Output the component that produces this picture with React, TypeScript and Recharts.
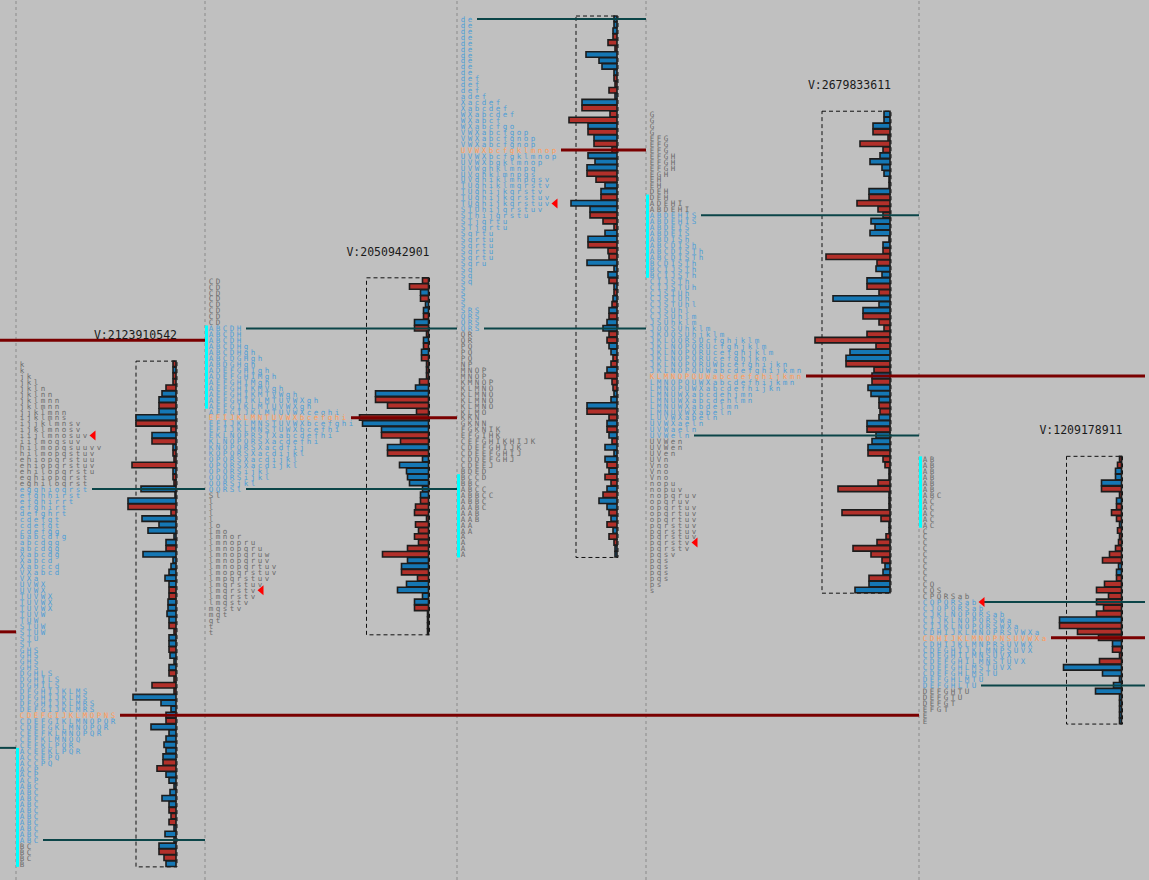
import { ComposedChart, Bar, Cell, Scatter, XAxis, YAxis, ReferenceLine, ReferenceArea } from "recharts"

const W = 1149
const H = 880

// price ladder, one tick per row
const TOP_PRICE = 4144
const ROW_PX = 5.95
const TOP_ROW_PX = 19
const PRICE_MAX = TOP_PRICE + TOP_ROW_PX / ROW_PX
const PRICE_MIN = PRICE_MAX - H / ROW_PX

// layout of the five sessions
const SEP_X = [16, 205, 457, 646, 919]
const BASE_X = [176, 428.5, 617, 890, 1121.5]
const COL_W = 7
const RIGHT_END = 1145

const RED = "#b2302a"
const BLUE = "#1577b4"
const POC_LINE = "#7a0000"
const VA_LINE = "#0b4548"
const TONE: Record<string, string> = { out: "#6c6c6c", va: "#4f9ed6", poc: "#ff9b5a" }

// session stats (prices)
const sessionTop = [4086, 4100, 4144, 4128, 4070]
const sessionPoc = [4027, 4077, 4122, 4084, 4040]
const sessionVah = [4065, 4092, 4144, 4111, 4046]
const sessionVal = [4006, 4065, 4092, 4074, 4032]
const sessionClose = [4074, 4048, 4113, 4056, 4046]
const ibHigh = [4021, 4092, 4067, 4114, 4070]
const ibLow = [4002, 4079, 4054, 4101, 4059]
const totalVolume = ["2123910542", "2050942901", "", "2679833611", "1209178911"]
const boxVolume = [40, 62, 41, 68, 55]
// separator index each poc / vah / val line runs to (5 = right edge)
const lineUntil = [
  [4, 1, 1],
  [2, 2, 2],
  [3, 3, 3],
  [5, 4, 4],
  [5, 5, 5],
]
// levels left over from earlier sessions
const olderLevels = [
  { price: 4090, kind: "poc", until: 1 },
  { price: 4041, kind: "poc", until: 0 },
  { price: 4021.5, kind: "va", until: 0 },
]

// volume per price row, top to bottom; side: r = sell dominant, b = buy dominant
const s1Vol = [
  3, 3, 3, 3, 10, 14, 17, 17, 17, 40, 40, 5, 24, 24, 3, 3, 2, 44, 3, 3, 2, 35, 1, 48, 48, 5, 34, 17, 28, 2, 10, 10, 33, 3,
  5, 7, 11, 7, 7, 7, 8, 8, 9, 7, 7, 2, 7, 7, 7, 6, 2, 7, 7, 2, 24, 2, 43, 15, 5, 10, 10, 25, 7, 10, 12, 10, 13, 13, 19, 10,
  7, 2, 6, 14, 7, 7, 5, 7, 2, 11, 2, 17, 17, 12, 10,
]
const s1Side = "rbrrrbbrbbrrbrbrrrbrrbbbrrbbbbbrbbbbbbrrb" + "bbbrrbbrbbbrrrrbbbbrbbbbbbrrbbbbbbrrrbbbbrrb"
const s2Vol = [
  6, 19, 8, 8, 3, 5, 5, 14, 14, 2, 5, 5, 7, 7, 2, 2, 2, 9, 13, 53, 53, 41, 12, 69, 66, 47, 47, 28, 41, 41, 6, 29, 22, 21, 19,
  6, 8, 8, 13, 14, 2, 13, 10, 14, 10, 21, 46, 21, 27, 27, 11, 22, 31, 6, 14, 14, 1, 1, 1, 1,
]
const s2Side = "rrbrbbrbrrbrbrrrrrbbrrrrbbrrbrbbbbbbbrrrrrrrrrrbbrrbbbbrrbbb"
const s3Vol = [
  3, 3, 4, 4, 9, 2, 31, 18, 15, 3, 3, 2, 8, 2, 35, 35, 7, 48, 29, 29, 23, 23, 5, 29, 22, 30, 30, 21, 12, 16, 16, 46, 27, 27,
  14, 3, 12, 29, 29, 9, 8, 30, 3, 9, 8, 3, 3, 4, 5, 8, 8, 10, 14, 8, 10, 8, 6, 4, 6, 10, 12, 5, 4, 3, 6, 30, 30, 8, 10, 10,
  8, 5, 12, 3, 12, 10, 8, 12, 6, 10, 14, 18, 10, 8, 6, 10, 4, 8, 3, 2, 2,
]
const s3Side = "bbbrrrbbbbrrrbbrrrbrbrrbbbrrbbrbbrrrbbrrrbbb" + "rbrbrbrbbrrbbrrbrrrbbbrrbrbrbbbrbrrbrbbrbrbrrbb"
const s4Vol = [
  6, 6, 17, 17, 2, 30, 7, 10, 20, 8, 6, 1, 1, 21, 21, 33, 12, 7, 19, 15, 20, 1, 7, 7, 64, 13, 14, 8, 23, 23, 11, 57, 11, 27,
  27, 11, 6, 23, 75, 14, 40, 44, 44, 16, 18, 18, 22, 19, 11, 11, 10, 11, 23, 23, 14, 18, 22, 22, 7, 5, 1, 1, 12, 52, 1, 1, 1,
  48, 9, 1, 1, 4, 13, 37, 19, 8, 5, 7, 21, 21, 35,
]
const s4Side = "bbbrrrrbbbbbbbrrrrbbbbbrrrbbbrrbbbrrrrrrbbrrbrbbbrrbbrbbbrrrrrrrrrrrrrrrrrrrbbrb"
const s5Vol = [
  2, 4, 6, 6, 20, 20, 2, 5, 5, 10, 5, 2, 4, 2, 3, 6, 12, 19, 3, 5, 5, 17, 25, 13, 25, 18, 25, 62, 62, 44, 23, 9, 9, 2, 22,
  58, 19, 2, 8, 26, 2, 2, 2, 2, 2,
]
const s5Side = "rrbbbrrbrrrbrrrrrrbbrrrrrrrbrrrbrrrbbbbbbbbbb"

// TPO letters per price row, top to bottom
const s1Tpo = [
  "k", "k", "jk", "jkl", "jkln", "jklnn", "jklmnn", "jklmnn", "jjklmnn", "ijklmns", "ijjklmnsv", "ijklmnosv", "iijlmnosuv",
  "iilmoqsuv", "hilmopqsuuvv", "hilmopqstuv", "ehiopqrstuu", "ehiopqrstuv", "ehilopqrstu", "eghiopqrst", "eghiloqrst",
  "egghioqrst", "efghhirst", "efghirrt", "efghirt", "defghrt", "cdefgt", "cdefgt", "cdefgg", "babcdfg", "abcdgg", "abcdgg",
  "Xabcdg", "Xabcd", "Xabccd", "VXabcd", "VXa", "UVWX", "UVWX", "TUVWX", "TUVWX", "TUVWX", "TUVW", "TUW", "STUW", "STUW",
  "STU", "ST", "GHS", "GHS", "GHS", "GHS", "DGHLS", "DGHILS", "DGHILS", "DFGHIJKLMS", "DFGHIJKLMS", "DFGHIJKLMRS",
  "DEFGIJKLMRS", "CDEFGIJKLMOPNS", "CDEFGIKLMNOPQR", "CDEFGKLMNOPQR", "CEEFKLMNOPQR", "CEFKLMNOQ", "CEFKLPQR",
  "ACEEKLPQR", "ACCEPQ", "ACCPQ", "ACP", "ACP", "ACP", "ABC", "ABC", "ABC", "ABC", "ABC", "ABC", "ABC", "ABC", "ABC", "ABC",
  "BC", "BC", "BC", "B",
]
const s2Tpo = [
  "CD", "CD", "CD", "CD", "CD", "CD", "CD", "CD", "ABCDH", "ABCDH", "ABCDH", "ABCDHg", "ABCDHgh", "ABCDGHgh", "ABDGHgh",
  "ADEFGHIgh", "ADEFGHIMgh", "AEFGHIMgh", "AEFGHIKMVgh", "AEFGHIKMTVWgh", "AEFGHIKLMTUVWXgh", "AEFGIKLMTUVWXgh",
  "AEFGIJKLMTUVWXceghi", "EFIJKLMNTUVWXbcefghi", "EFIJKLMNSTUVWXbcefghi", "EFIJKLMNSTUWXbcefhi", "EKLNOPRSTXabcdefhi",
  "KLNOPQRSXacdefhi", "KNOPQRSXacdfij", "KOPQRSXacdijkl", "OPQRSXacdijkl", "OPQRSXacdijkl", "OPQRSijkl", "OOQRSijkl",
  "OORSjkl", "OQRSl", "Sl", "l", "l", "l", "l", "lo", "lmo", "lmnor", "lmnopru", "lmnopqru", "lmnopqruw", "lmnopqruv",
  "lmnopqrtuv", "lmopqrstuv", "lmpqrstuv", "lmqrstuv", "lmqrstv", "lmqrstv", "lmqstv", "mqstv", "mqt", "qt", "t", "t",
]
const s3Tpo = [
  "de", "de", "de", "de", "de", "de", "de", "de", "de", "de", "def", "def", "def", "adef", "Xacdef", "Xabcdef", "WXabcdef",
  "WXabcf", "WXabcfgo", "VWXabcfgop", "VWXabcfgnop", "VWXabcfgnop", "UVWXbcfgklmnop", "UVWXbcfgklmnop", "UVWXbgklmnop",
  "UVWghklmnpq", "UVghklmnpqs", "UVghiklmnpqsv", "TUghiklmqrstv", "TUghijkqrstv", "TUghijkqrstuv", "TUghijkqrstuv",
  "STUhijqrstuv", "SThijqrstu", "STjqrtu", "STjqrtu", "Sqrtu", "Sqrtu", "Sqrtu", "Sqrtu", "Sqrtu", "Sqru", "Sq", "Sq", "Sq",
  "S", "S", "S", "S", "SRS", "QRS", "QRS", "QRS", "QR", "QR", "PQ", "PQ", "PQ", "NP", "MNOP", "MNOP", "KMNOP", "KLMNO",
  "KLMNO", "KLMNO", "KLMNO", "KLMO", "KKN", "GKNN", "FGKNIK", "EFGIHK", "CEFGHIKHIJK", "CDEFGHIJK", "CDEEFGHIJ", "CDDEFGHJ",
  "CDEEJ", "BDED", "BCCD", "BBC", "ABCC", "ABBCC", "ABBC", "AABC", "AAB", "AAB", "AA", "AA", "A", "A", "A", "A",
]
const s4Tpo = [
  "G", "G", "G", "G", "EFG", "EFG", "EFG", "EFGH", "EFGH", "EFGH", "EGH", "EH", "EH", "DEH", "DEH", "ADEHI", "ABDEHI",
  "ABDEHIS", "ABDEHIS", "ABDEIS", "ABDEIS", "ABDISh", "ABCDISh", "ABCDISTh", "ABCDISTh", "BCDISTh", "BCIJSTh", "BCIJSTh",
  "CIJSTh", "CIJSTUh", "CJSTUh", "CJSTUh", "CJSTUhl", "CJSUhl", "CJSUhlm", "JSUhklm", "JOQSUhklm", "JKOQSUhjklm",
  "JKLOQRSUcfghjklm", "JKLNOPQRUcfghjklm", "JKLNOPQRUcefghjklm", "JKLNOPQRUcefghjkn", "JKLNOPQRUWbcefghijkn",
  "JKLNOPQUWabcdefghijkmn", "KLMNOPQUWabcdefghijkmn", "LMNOPQUWXabcdefhijkmn", "LMNOPUWXabcdefhijkn", "LMNUWXabcdehjmn",
  "LMNUWXabcdehlmn", "LMNUWXabdelmn", "LMNUVWXabeln", "LUVWXabeln", "UVWXaeln", "UVWaeln", "UVWeln", "UVWen", "UVWen",
  "UVen", "UVn", "Vno", "Vno", "Vno", "nopu", "nopuv", "nopqruv", "opqruv", "opqrtuv", "opqrtuv", "opqrtuv", "pqrstuv",
  "pqrstuv", "pqrstuv", "pqrstv", "pqrstv", "pqsv", "pqs", "pqs", "pqs", "pqs", "ps", "s",
]
const s5Tpo = [
  "AB", "AB", "AB", "AB", "AB", "AB", "ABC", "AC", "AC", "AC", "AC", "AC", "C", "C", "C", "C", "C", "C", "C", "C", "C", "CQ",
  "CQS", "CPQRSab", "COPQRSab", "CJOPQRSab", "CJKLNOPQRSab", "CIJKLNOPQRSWa", "CIJKLNOPQRSWXa", "CDHIJKLMNOPRSVWXa",
  "CDHIJKLMNOPNSUVWXa", "CDHIJKLMNPRSUVWX", "CDEGHIJKLMNPSUVX", "CDEGHILMNSUVX", "CDEFGHILMNSTUVX", "CDEFGHLMSTUVX",
  "CDEFGHLMSTU", "DEFGHLMTU", "DEFGHLTU", "DEFGHTU", "DEFGTU", "DEFGT", "EFGT", "E", "E",
]

const sessions = [
  { vol: s1Vol, side: s1Side, tpo: s1Tpo },
  { vol: s2Vol, side: s2Side, tpo: s2Tpo },
  { vol: s3Vol, side: s3Side, tpo: s3Tpo },
  { vol: s4Vol, side: s4Side, tpo: s4Tpo },
  { vol: s5Vol, side: s5Side, tpo: s5Tpo },
].map((s, i) => ({
  ...s,
  top: sessionTop[i],
  poc: sessionPoc[i],
  vah: sessionVah[i],
  val: sessionVal[i],
}))

// one row per price level, volumes of every session side by side
const levels: any[] = []
for (let p = TOP_PRICE; p >= 4000; p--) {
  const row: any = { price: p }
  sessions.forEach((s, i) => {
    const j = s.top - p
    if (j >= 0 && j < s.vol.length) {
      row[`v${i}`] = s.vol[j]
      row[`c${i}`] = s.side[j]
    }
  })
  levels.push(row)
}

const letterX = (i: number, col: number) => SEP_X[i] + 6 + col * COL_W
const rowEndX = (i: number, price: number) => {
  const row = sessions[i].tpo[sessions[i].top - price] || "x"
  return letterX(i, row.length - 1)
}
const untilX = (u: number) => (u < 5 ? SEP_X[u] : RIGHT_END)

const letters = sessions.flatMap((s, i) =>
  s.tpo.flatMap((row, j) => {
    const price = s.top - j
    const tone = price === s.poc ? "poc" : price <= s.vah && price >= s.val ? "va" : "out"
    return row.split("").map((ch, c) => ({ x: letterX(i, c), price, ch, tone }))
  })
)

const levelLines = [
  ...olderLevels.map((l) => ({ ...l, x1: 0, x2: untilX(l.until) })),
  ...sessions.flatMap((s, i) =>
    [
      { price: s.poc, kind: "poc" },
      { price: s.vah, kind: "va" },
      { price: s.val, kind: "va" },
    ].map((l, k) => ({ ...l, x1: rowEndX(i, l.price) + 7, x2: untilX(lineUntil[i][k]) }))
  ),
]

const closeMarks = sessionClose.map((price, i) => ({ x: rowEndX(i, price) + 7.5, price }))
const volumeLabels = totalVolume
  .map((v, i) => ({ x: BASE_X[i] + 1, price: sessionTop[i], text: v ? `V:${v}` : "" }))
  .filter((d) => d.text)

const LetterMark = (props: any) => {
  const { cx, cy, payload } = props
  return (
    <text x={cx} y={cy + 2.8} textAnchor="middle" fontSize={7.5} fontFamily="'DejaVu Sans Mono', monospace" fill={TONE[payload.tone]}>
      {payload.ch}
    </text>
  )
}

const CloseMark = (props: any) => {
  const { cx, cy } = props
  return <polygon points={`${cx - 3},${cy} ${cx + 3},${cy - 5} ${cx + 3},${cy + 5}`} fill="#ff0000" />
}

const VolumeLabel = (props: any) => {
  const { cx, cy, payload } = props
  return (
    <text x={cx} y={cy - 25} textAnchor="end" fontSize={11.5} fontFamily="'DejaVu Sans Mono', monospace" fill="#1a1a1a">
      {payload.text}
    </text>
  )
}

export default function App() {
  return (
    <div style={{ position: "absolute", left: 0, top: 0, width: W, height: H, background: "#c0c0c0" }}>
      <ComposedChart width={W} height={H} data={levels} layout="vertical" margin={{ top: 0, right: 0, bottom: 0, left: 0 }}>
        <YAxis yAxisId="p" type="number" dataKey="price" domain={[PRICE_MIN, PRICE_MAX]} reversed allowDataOverflow hide />
        {BASE_X.map((b, i) => (
          <YAxis
            key={`py${i}`}
            yAxisId={`p${i}`}
            type="number"
            dataKey="price"
            domain={[PRICE_MIN, PRICE_MAX]}
            reversed
            allowDataOverflow
            hide
          />
        ))}
        <XAxis xAxisId="px" type="number" dataKey="x" domain={[0, W]} allowDataOverflow hide />
        {BASE_X.map((b, i) => (
          <XAxis key={i} xAxisId={`v${i}`} type="number" domain={[b - W, b]} reversed allowDataOverflow hide />
        ))}

        {SEP_X.map((x, i) => (
          <ReferenceLine key={`sep${i}`} xAxisId="px" yAxisId="p" x={x} stroke="#8a8a8a" strokeDasharray="3 3" />
        ))}
        {levelLines.map((l, i) => (
          <ReferenceLine
            key={`lvl${i}`}
            xAxisId="px"
            yAxisId="p"
            segment={[
              { x: l.x1, y: l.price },
              { x: l.x2, y: l.price },
            ]}
            stroke={l.kind === "poc" ? POC_LINE : VA_LINE}
            strokeWidth={l.kind === "poc" ? 3 : 2}
            ifOverflow="visible"
          />
        ))}
        {SEP_X.map((x, i) => (
          <ReferenceLine
            key={`ib${i}`}
            xAxisId="px"
            yAxisId="p"
            segment={[
              { x: x + 1.5, y: ibHigh[i] + 0.5 },
              { x: x + 1.5, y: ibLow[i] - 0.5 },
            ]}
            stroke="#00ffff"
            strokeWidth={3}
          />
        ))}

        {sessions.map((s, i) => (
          <Bar
            key={`bar${i}`}
            xAxisId={`v${i}`}
            yAxisId={`p${i}`}
            dataKey={`v${i}`}
            barSize={5.5}
            stroke="#1c1c1c"
            strokeWidth={1.6}
            isAnimationActive={false}
          >
            {levels.map((row, j) => (
              <Cell key={j} fill={row[`c${i}`] === "r" ? RED : BLUE} />
            ))}
          </Bar>
        ))}

        {sessions.map((s, i) => (
          <ReferenceArea
            key={`box${i}`}
            xAxisId={`v${i}`}
            yAxisId="p"
            x1={boxVolume[i]}
            x2={-1}
            y1={s.top + 0.5}
            y2={s.top - s.vol.length + 0.5}
            fill="none"
            stroke="#111"
            strokeDasharray="4 3"
            ifOverflow="visible"
          />
        ))}

        <Scatter xAxisId="px" yAxisId="p" data={letters} shape={LetterMark} isAnimationActive={false} />
        <Scatter xAxisId="px" yAxisId="p" data={closeMarks} shape={CloseMark} isAnimationActive={false} />
        <Scatter xAxisId="px" yAxisId="p" data={volumeLabels} shape={VolumeLabel} isAnimationActive={false} />
      </ComposedChart>
    </div>
  )
}
